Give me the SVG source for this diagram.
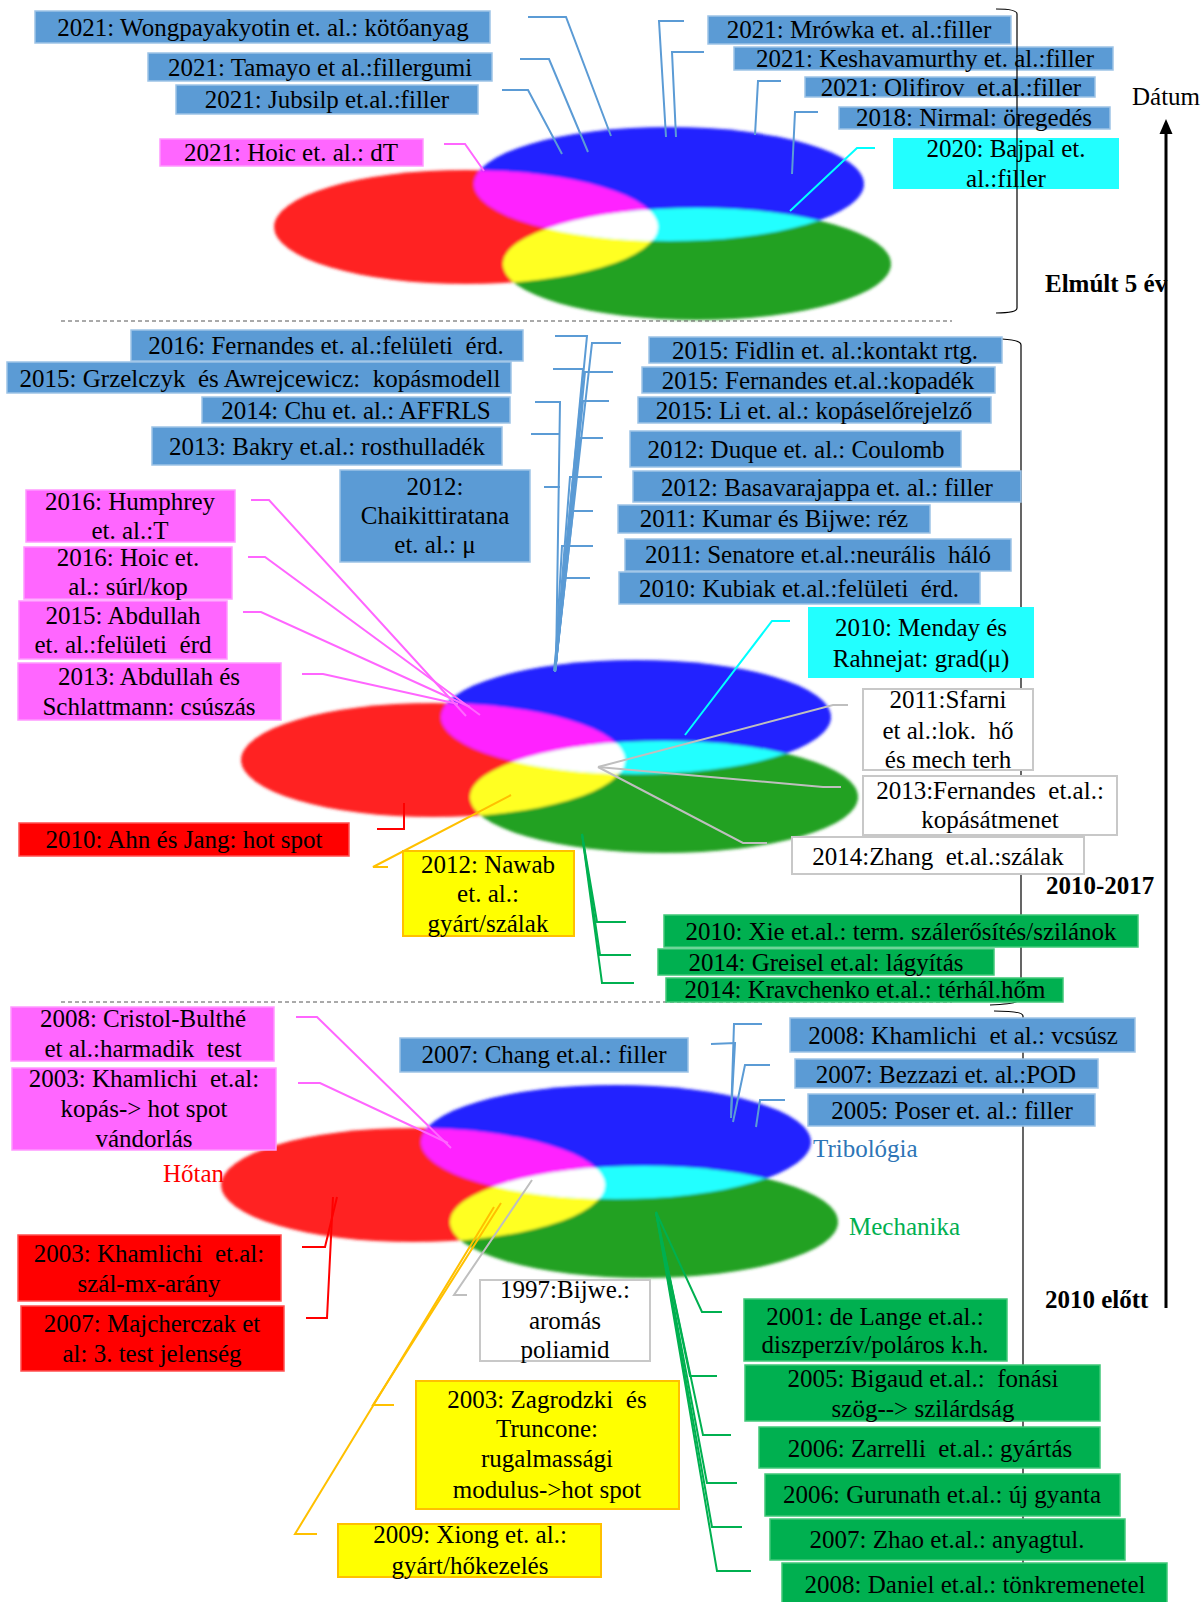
<svg xmlns="http://www.w3.org/2000/svg" xmlns:xlink="http://www.w3.org/1999/xlink" width="1203" height="1602" viewBox="0 0 1203 1602">
<style>
text{font-family:"Liberation Serif","Times New Roman",serif;font-size:25px;fill:#000;text-anchor:middle;white-space:pre}
.b{fill:#5b9bd5;stroke:#9dc3e6;stroke-width:1.5}
.m{fill:#ff66ff;stroke:#ff99ff;stroke-width:1.5}
.r{fill:#ff0000;stroke:#ff5050;stroke-width:1.5}
.y{fill:#ffff00;stroke:#ffc000;stroke-width:2}
.g{fill:#00b050;stroke:#40c878;stroke-width:1.5}
.c{fill:#22ffff}
.w{fill:#fff;stroke:#c8c8c8;stroke-width:2}
.bold{font-weight:bold;text-anchor:start}
.st{text-anchor:start}
#conn path{fill:none;stroke-width:2}
.lb{stroke:#5b9bd5}.lm{stroke:#ff66ff}.lr{stroke:#ff0000}.lo{stroke:#ffc000}.lg{stroke:#00b050}.lgr{stroke:#bfbfbf}.lc{stroke:#00ffff}
.dash{stroke:#555;stroke-width:1;stroke-dasharray:4 3;fill:none}
.brk{stroke:#000;stroke-width:1.2;fill:none}
</style>
<defs>
<ellipse id="eR" cx="0" cy="0" rx="192" ry="57"/>
<ellipse id="eB" cx="203" cy="-43" rx="195" ry="57"/>
<ellipse id="eG" cx="231" cy="37" rx="194" ry="56"/>
<clipPath id="cR"><use href="#eR"/></clipPath>
<clipPath id="cG"><use href="#eG"/></clipPath>
<filter id="soft" x="-10%" y="-20%" width="120%" height="140%"><feGaussianBlur stdDeviation="1.4"/></filter>
<g id="venn" filter="url(#soft)">
<use href="#eR" fill="#ff2323"/>
<use href="#eB" fill="#2222ff"/>
<use href="#eG" fill="#22a122"/>
<use href="#eB" fill="#ff22ff" clip-path="url(#cR)"/>
<use href="#eG" fill="#ffff22" clip-path="url(#cR)"/>
<use href="#eB" fill="#22ffff" clip-path="url(#cG)"/>
<g clip-path="url(#cR)"><use href="#eB" fill="#ffffff" clip-path="url(#cG)"/></g>
</g>
</defs>
<rect width="1203" height="1602" fill="#fff"/>

<g id="venns">
<use href="#venn" x="466" y="227"/>
<use href="#venn" x="433" y="760"/>
<use href="#venn" x="413" y="1185"/>
</g>

<g id="separators">
<path class="dash" d="M61,321H952"/>
<path class="dash" d="M61,1002H952"/>
<path class="brk" d="M1002,339Q1021,340 1021,345V998Q1021,1004 990,1005"/>
<path class="brk" d="M994,1011Q1023,1011 1023,1016V1590"/>
</g>

<g id="conn">
<path class="lb" d="M528,17H566L611,136"/>
<path class="lb" d="M520,59H549L588,152"/>
<path class="lb" d="M502,90H528L562,154"/>
<path class="lb" d="M684,21H659L666,137"/>
<path class="lb" d="M704,52H672L676,137"/>
<path class="lb" d="M781,81H758L755,135"/>
<path class="lb" d="M818,112H795L792,174"/>
<path class="lc" d="M875,148H857L790,211"/>
<path class="lm" d="M444,144H465L484,171"/>

<path class="lb" d="M555,336H587L554,671"/>
<path class="lb" d="M553,369H583L555,671"/>
<path class="lb" d="M535,402H560L556,668"/>
<path class="lb" d="M531,434H559"/>
<path class="lb" d="M544,487H560"/>
<path class="lb" d="M621,343H592L555,672"/>
<path class="lb" d="M613,372H585L555,672"/>
<path class="lb" d="M609,401H583L555,672"/>
<path class="lb" d="M603,438H580L555,672"/>
<path class="lb" d="M602,477H570L555,672"/>
<path class="lb" d="M593,511H573L555,672"/>
<path class="lb" d="M593,546H562L555,672"/>
<path class="lb" d="M590,578H565L555,672"/>
<path class="lm" d="M251,500H269L466,716"/>
<path class="lm" d="M248,557H265L480,715"/>
<path class="lm" d="M243,612H261L470,707"/>
<path class="lm" d="M302,674H323L458,704"/>
<path class="lc" d="M790,621H772L685,735"/>
<path class="lgr" d="M848,705H833L598,767"/>
<path class="lgr" d="M841,787H823L598,767"/>
<path class="lgr" d="M767,843H743L598,767"/>
<path class="lr" d="M377,829H404V803"/>
<path class="lo" d="M388,867H373L511,795"/>
<path class="lg" d="M582,834L597,922H626"/>
<path class="lg" d="M582,834L600,955H631"/>
<path class="lg" d="M582,834L602,983H634"/>

<path class="lm" d="M296,1017H317L451,1148"/>
<path class="lm" d="M298,1083H320L448,1143"/>
<path class="lr" d="M302,1247H325L337,1197"/>
<path class="lr" d="M306,1318H327L333,1197"/>
<path class="lgr" d="M467,1295H454L532,1180"/>
<path class="lo" d="M394,1405H373L501,1203"/>
<path class="lo" d="M317,1534H295L494,1207"/>
<path class="lb" d="M762,1024H734L731,1118"/>
<path class="lb" d="M711,1044L735,1043L731,1115"/>
<path class="lb" d="M770,1065H745L733,1122"/>
<path class="lb" d="M785,1100H760L756,1127"/>
<path class="lg" d="M656,1212L702,1312H722"/>
<path class="lg" d="M656,1212L690,1376H717"/>
<path class="lg" d="M656,1212L703,1435H731"/>
<path class="lg" d="M656,1212L707,1483H737"/>
<path class="lg" d="M656,1212L712,1527H742"/>
<path class="lg" d="M656,1212L717,1571H751"/>
</g>

<g id="n-wong"><rect class="b" x="35" y="11" width="455" height="32"/><text x="263" y="36">2021: Wongpayakyotin et. al.: kötőanyag</text></g>
<g id="n-tamayo"><rect class="b" x="148" y="53" width="344" height="28"/><text x="320" y="76">2021: Tamayo et al.:fillergumi</text></g>
<g id="n-jubsilp"><rect class="b" x="176" y="85" width="302" height="29"/><text x="327" y="108">2021: Jubsilp et.al.:filler</text></g>
<g id="n-hoic21"><rect class="m" x="160" y="139" width="263" height="27"/><text x="291" y="161">2021: Hoic et. al.: dT</text></g>
<g id="n-mrowka"><rect class="b" x="708" y="16" width="303" height="28"/><text x="859" y="38">2021: Mrówka et. al.:filler</text></g>
<g id="n-kesh"><rect class="b" x="734" y="47" width="379" height="23"/><text x="925" y="67">2021: Keshavamurthy et. al.:filler</text></g>
<g id="n-olif"><rect class="b" x="805" y="77" width="290" height="20"/><text x="951" y="96">2021: Olifirov  et.al.:filler</text></g>
<g id="n-nirmal"><rect class="b" x="839" y="107" width="271" height="22"/><text x="974" y="126">2018: Nirmal: öregedés</text></g>
<g id="n-bajpal"><rect class="c" x="893" y="138" width="226" height="51"/><text x="1006" y="157">2020: Bajpal et.</text><text x="1006" y="187">al.:filler</text></g>

<g id="n-fern16"><rect class="b" x="131" y="330" width="392" height="31"/><text x="326" y="354">2016: Fernandes et. al.:felületi  érd.</text></g>
<g id="n-grz"><rect class="b" x="7" y="362" width="504" height="31"/><text x="260" y="387">2015: Grzelczyk  és Awrejcewicz:  kopásmodell</text></g>
<g id="n-chu"><rect class="b" x="202" y="397" width="308" height="26"/><text x="356" y="419">2014: Chu et. al.: AFFRLS</text></g>
<g id="n-bakry"><rect class="b" x="152" y="427" width="350" height="38"/><text x="327" y="455">2013: Bakry et.al.: rosthulladék</text></g>
<g id="n-chaik"><rect class="b" x="340" y="470" width="190" height="92"/><text x="435" y="495">2012:</text><text x="435" y="524">Chaikittiratana</text><text x="435" y="553">et. al.: μ</text></g>
<g id="n-humph"><rect class="m" x="26" y="490" width="209" height="52"/><text x="130" y="510">2016: Humphrey</text><text x="130" y="539">et. al.:T</text></g>
<g id="n-hoic16"><rect class="m" x="24" y="547" width="208" height="52"/><text x="128" y="566">2016: Hoic et.</text><text x="128" y="595">al.: súrl/kop</text></g>
<g id="n-abd15"><rect class="m" x="19" y="601" width="208" height="58"/><text x="123" y="624">2015: Abdullah</text><text x="123" y="653">et. al.:felületi  érd</text></g>
<g id="n-abd13"><rect class="m" x="18" y="663" width="263" height="57"/><text x="149" y="685">2013: Abdullah és</text><text x="149" y="715">Schlattmann: csúszás</text></g>
<g id="n-fidlin"><rect class="b" x="649" y="337" width="353" height="26"/><text x="825" y="359">2015: Fidlin et. al.:kontakt rtg.</text></g>
<g id="n-fern15"><rect class="b" x="642" y="367" width="353" height="26"/><text x="818" y="389">2015: Fernandes et.al.:kopadék</text></g>
<g id="n-li"><rect class="b" x="638" y="397" width="353" height="26"/><text x="814" y="419">2015: Li et. al.: kopáselőrejelző</text></g>
<g id="n-duque"><rect class="b" x="630" y="431" width="331" height="36"/><text x="796" y="458">2012: Duque et. al.: Coulomb</text></g>
<g id="n-basa"><rect class="b" x="633" y="471" width="388" height="31"/><text x="827" y="496">2012: Basavarajappa et. al.: filler</text></g>
<g id="n-kumar"><rect class="b" x="618" y="505" width="312" height="28"/><text x="774" y="527">2011: Kumar és Bijwe: réz</text></g>
<g id="n-senat"><rect class="b" x="625" y="539" width="386" height="32"/><text x="818" y="563">2011: Senatore et.al.:neurális  háló</text></g>
<g id="n-kubiak"><rect class="b" x="619" y="572" width="361" height="32"/><text x="799" y="597">2010: Kubiak et.al.:felületi  érd.</text></g>
<g id="n-menday"><rect class="c" x="808" y="607" width="226" height="71"/><text x="921" y="636">2010: Menday és</text><text x="921" y="667">Rahnejat: grad(μ)</text></g>
<g id="n-sfarni"><rect class="w" x="863" y="689" width="170" height="81"/><text x="948" y="708">2011:Sfarni</text><text x="948" y="739">et al.:lok.  hő</text><text x="948" y="768">és mech terh</text></g>
<g id="n-fern13"><rect class="w" x="863" y="776" width="254" height="59"/><text x="990" y="799">2013:Fernandes  et.al.:</text><text x="990" y="828">kopásátmenet</text></g>
<g id="n-zhang"><rect class="w" x="792" y="837" width="292" height="37"/><text x="938" y="865">2014:Zhang  et.al.:szálak</text></g>
<g id="n-ahn"><rect class="r" x="19" y="823" width="330" height="33"/><text x="184" y="848">2010: Ahn és Jang: hot spot</text></g>
<g id="n-nawab"><rect class="y" x="403" y="851" width="171" height="85"/><text x="488" y="873">2012: Nawab</text><text x="488" y="902">et. al.:</text><text x="488" y="932">gyárt/szálak</text></g>
<g id="n-xie"><rect class="g" x="664" y="915" width="474" height="32"/><text x="901" y="940">2010: Xie et.al.: term. szálerősítés/szilánok</text></g>
<g id="n-greisel"><rect class="g" x="658" y="949" width="336" height="26"/><text x="826" y="971">2014: Greisel et.al: lágyítás</text></g>
<g id="n-krav"><rect class="g" x="666" y="978" width="397" height="24"/><text x="865" y="998">2014: Kravchenko et.al.: térhál.hőm</text></g>

<g id="n-cristol"><rect class="m" x="11" y="1007" width="263" height="54"/><text x="143" y="1027">2008: Cristol-Bulthé</text><text x="143" y="1057">et al.:harmadik  test</text></g>
<g id="n-kham03m"><rect class="m" x="12" y="1068" width="264" height="82"/><text x="144" y="1087">2003: Khamlichi  et.al:</text><text x="144" y="1117">kopás-&gt; hot spot</text><text x="144" y="1147">vándorlás</text></g>
<g id="n-chang"><rect class="b" x="400" y="1038" width="288" height="34"/><text x="544" y="1063">2007: Chang et.al.: filler</text></g>
<g id="n-kham08"><rect class="b" x="790" y="1018" width="345" height="34"/><text x="963" y="1044">2008: Khamlichi  et al.: vcsúsz</text></g>
<g id="n-bezz"><rect class="b" x="795" y="1059" width="303" height="29"/><text x="946" y="1083">2007: Bezzazi et. al.:POD</text></g>
<g id="n-poser"><rect class="b" x="808" y="1094" width="287" height="32"/><text x="952" y="1119">2005: Poser et. al.: filler</text></g>
<g id="n-kham03r"><rect class="r" x="18" y="1235" width="263" height="66"/><text x="149" y="1262">2003: Khamlichi  et.al:</text><text x="149" y="1292">szál-mx-arány</text></g>
<g id="n-majch"><rect class="r" x="21" y="1306" width="263" height="65"/><text x="152" y="1332">2007: Majcherczak et</text><text x="152" y="1362">al: 3. test jelenség</text></g>
<g id="n-bijwe"><rect class="w" x="480" y="1280" width="170" height="81"/><text x="565" y="1298">1997:Bijwe.:</text><text x="565" y="1329">aromás</text><text x="565" y="1358">poliamid</text></g>
<g id="n-zagr"><rect class="y" x="416" y="1381" width="263" height="128"/><text x="547" y="1408">2003: Zagrodzki  és</text><text x="547" y="1437">Truncone:</text><text x="547" y="1467">rugalmassági</text><text x="547" y="1498">modulus-&gt;hot spot</text></g>
<g id="n-xiong"><rect class="y" x="338" y="1524" width="263" height="53"/><text x="470" y="1543">2009: Xiong et. al.:</text><text x="470" y="1574">gyárt/hőkezelés</text></g>
<g id="n-delange"><rect class="g" x="744" y="1299" width="263" height="62"/><text x="875" y="1325">2001: de Lange et.al.:</text><text x="875" y="1353">diszperzív/poláros k.h.</text></g>
<g id="n-bigaud"><rect class="g" x="745" y="1365" width="355" height="56"/><text x="923" y="1387">2005: Bigaud et.al.:  fonási</text><text x="923" y="1417">szög--&gt; szilárdság</text></g>
<g id="n-zarr"><rect class="g" x="759" y="1427" width="341" height="41"/><text x="930" y="1457">2006: Zarrelli  et.al.: gyártás</text></g>
<g id="n-guru"><rect class="g" x="765" y="1474" width="355" height="42"/><text x="942" y="1503">2006: Gurunath et.al.: új gyanta</text></g>
<g id="n-zhao"><rect class="g" x="770" y="1519" width="355" height="41"/><text x="947" y="1548">2007: Zhao et.al.: anyagtul.</text></g>
<g id="n-daniel"><rect class="g" x="782" y="1563" width="385" height="45"/><text x="975" y="1593">2008: Daniel et.al.: tönkremenetel</text></g>

<g id="labels">
<text class="st" x="163" y="1182" style="fill:#ff0000">Hőtan</text>
<text class="st" x="813" y="1157" style="fill:#2e75b6">Tribológia</text>
<text class="st" x="849" y="1235" style="fill:#00b050">Mechanika</text>
<text class="st" x="1132" y="105">Dátum</text>
<text class="bold" x="1045" y="292">Elmúlt 5 év</text>
<text class="bold" x="1046" y="894">2010-2017</text>
<text class="bold" x="1045" y="1308">2010 előtt</text>
</g>

<g id="timeline">
<path class="brk" d="M996,9Q1017,9 1017,14V308Q1017,313 996,313"/>
<path d="M1166,1308V130" stroke="#000" stroke-width="3" fill="none"/>
<path d="M1166,119L1159.5,134H1172.5Z" fill="#000"/>
</g>
</svg>
